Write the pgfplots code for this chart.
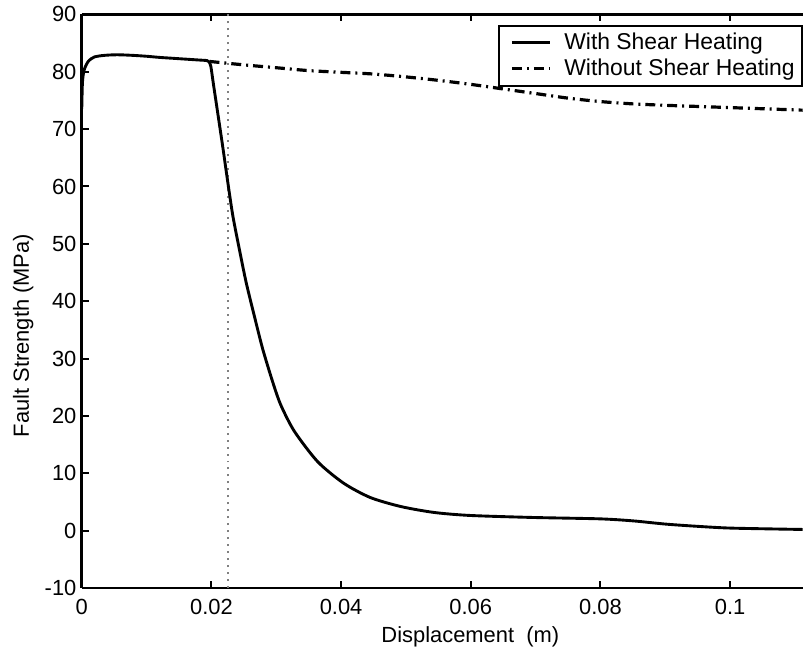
\documentclass[border=0pt]{standalone}
\usepackage{pgfplots}
\pgfplotsset{compat=1.18}
\usepackage{fontspec}
\setmainfont{Liberation Sans}

\newcommand{\lblfont}{\fontsize{11pt}{13pt}\selectfont}

\begin{document}
\begin{tikzpicture}
\begin{axis}[
    scale only axis,
    width=362pt, height=288pt,
    xmin=0, xmax=0.1112,
    ymin=-10, ymax=90,
    axis x line=box,
    axis y line=left,
    axis line style={-, line width=1.3pt},
    xtick={0,0.02,0.04,0.06,0.08,0.1},
    xticklabels={0,0.02,0.04,0.06,0.08,0.1},
    ytick={-10,0,10,20,30,40,50,60,70,80,90},
    yticklabels={-10,0,10,20,30,40,50,60,70,80,90},
    tick align=inside,
    major tick length=3.5pt,
    tick style={line width=1pt, black},
    tick label style={font=\lblfont},
    xticklabel style={yshift=-2.3pt},
    yticklabel style={inner xsep=2.5pt},
    label style={font=\lblfont},
    xlabel={Displacement~~(m)},
    ylabel={Fault Strength (MPa)},
    xlabel style={at={(ticklabel cs:0.539)}, anchor=near ticklabel, yshift=1pt},
    ylabel style={at={(ticklabel cs:0.44)}, anchor=near ticklabel, inner sep=3pt},
    legend style={at={(rel axis cs:1,0.982)}, anchor=north east,
        draw=black, line width=1pt, fill=white,
        font=\fontsize{11.5pt}{13pt}\selectfont,
        inner xsep=1.5pt, inner ysep=2pt, row sep=0pt, column sep=4.5pt,
        nodes={inner ysep=1.6pt}},
    legend cell align=left,
    legend image code/.code={\path (0pt,0pt); \draw[#1] (4pt,0pt) -- (23pt,0pt);},
]
% dotted marker line
\addplot[gray, line width=0.8pt, dash pattern=on 1pt off 2.5pt, forget plot]
    coordinates {(0.02258,-10) (0.02258,90)};

\addplot[black, line width=1.45pt, smooth, tension=0.45] coordinates {
    (0,73.5) (0.0001,78) (0.0003,80) (0.0006,81) (0.001,81.8) (0.0015,82.3)
    (0.002,82.6) (0.003,82.8) (0.004,82.9) (0.005,82.95) (0.006,82.95)
    (0.008,82.85) (0.010,82.7) (0.012,82.5) (0.014,82.35) (0.016,82.2)
    (0.018,82.05) (0.0193,81.95) (0.0196,81.75) (0.0199,81.0) (0.0203,77.9)
    (0.0210,72.6) (0.0218,66.5) (0.02253,60.7) (0.0233,54.9) (0.0243,49.1)
    (0.02535,43.3) (0.0266,37.5) (0.0279,31.7) (0.02944,25.95) (0.0307,21.9)
    (0.0328,17.3) (0.0364,12.0) (0.0404,8.26) (0.0445,5.77) (0.0492,4.2)
    (0.0543,3.17) (0.0599,2.64) (0.0696,2.29) (0.0799,2.05) (0.085,1.7)
    (0.0901,1.13) (0.0952,0.73) (0.1003,0.43) (0.1112,0.2)
};
\addlegendentry{With Shear Heating}

\addplot[black, line width=1.6pt, smooth, tension=0.5,
    dash pattern=on 5pt off 2.5pt on 1pt off 2.5pt] coordinates {
    (0.0197,81.8) (0.025,81.2) (0.030,80.7) (0.035,80.2) (0.040,79.9)
    (0.045,79.6) (0.050,79.1) (0.055,78.5) (0.060,77.8) (0.065,77.0)
    (0.070,76.2) (0.075,75.4) (0.080,74.8) (0.085,74.4) (0.090,74.15)
    (0.095,73.95) (0.100,73.75) (0.1112,73.3)
};
\addlegendentry{Without Shear Heating}
\end{axis}
% a little white margin on the left, as in the reference
\path (current bounding box.west) ++(-3.5pt,0) coordinate (padW);
\end{tikzpicture}
\end{document}
